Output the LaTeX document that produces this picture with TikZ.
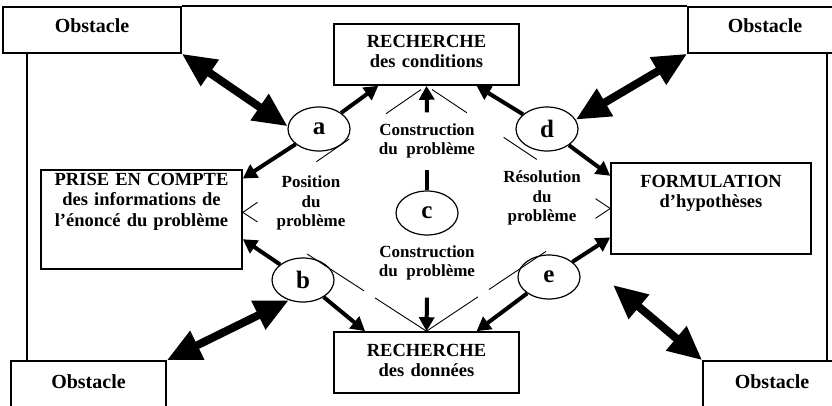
\documentclass[tikz,border=0pt]{standalone}
\usepackage{fontspec}
\setmainfont{Liberation Serif}
\usetikzlibrary{arrows.meta,shapes.geometric,calc}

\begin{document}
\begin{tikzpicture}[x=1pt, y=-1pt,
  main/.style = {draw, ellipse, line width=1.2pt, fill=white, minimum width=62pt, minimum height=44pt, inner sep=0pt, font=\bfseries\fontsize{25}{25}\selectfont},
  box/.style = {draw, line width=1.6pt, inner sep=0pt, align=center, font=\bfseries\fontsize{18.5}{20.5}\selectfont},
  obst/.style = {draw, line width=1.6pt, inner sep=0pt, font=\bfseries\fontsize{20}{22}\selectfont},
  lab/.style = {align=center, inner sep=0pt, font=\bfseries\fontsize{17}{19.5}\selectfont},
  arr/.style = {line width=4pt, -{Triangle[length=14pt,width=15pt]}},
  big/.style = {line width=8pt, {Triangle[length=34pt,width=30pt]}-{Triangle[length=34pt,width=30pt]}},
  thinline/.style = {line width=0.9pt}]
  \useasboundingbox (0,0) rectangle (832,405);

  % obstacles and frame
  \node[obst, minimum width=178pt, text height=25pt, text depth=21pt] (otl) at (92,30) {Obstacle};
  \node[obst, minimum width=154pt, text height=25pt, text depth=21pt] (otr) at (765,30) {Obstacle};
  \node[obst, minimum width=155pt, text height=27pt, text depth=23pt] (obl) at (88.5,386) {Obstacle};
  \node[obst, minimum width=138pt, text height=27pt, text depth=23pt] (obr) at (772,386) {Obstacle};
  \draw[line width=1.6pt] (otl.north east) -- (otr.north west);
  \draw[line width=1.6pt] (27,53) -- (27,361);
  \draw[line width=1.6pt] (827,53) -- (827,361);

  % boxes
  \node[box, text width=185pt, text height=23pt, text depth=38pt] (rc) at (426.5,54.5) {RECHERCHE\\des conditions};
  \node[box, text width=185pt, text height=24pt, text depth=37pt] (rd) at (426.5,362.5) {RECHERCHE\\des données};
  \node[box, text width=201pt, text height=15pt, text depth=84pt] (prise) at (141.5,219.5) {PRISE EN COMPTE\\des informations de\\l’énoncé du problème};
  \node[box, text width=200pt, text height=24pt, text depth=67pt] (form) at (711,208.5) {FORMULATION\\d’hypothèses};

  % phases
  \node[main] (a) at (319,129) {a};
  \node[main] (b) at (303,280) {b};
  \node[main] (c) at (427,213) {c};
  \node[main] (d) at (547,129) {d};
  \node[main] (e) at (549,277) {e};

  \node[lab] (cu) at (427,141) {Construction\\du\ \ problème};
  \node[lab] (cd) at (427,263) {Construction\\du\ \ problème};
  \node[lab] (pos) at (311,203) {Position\\du\\problème};
  \node[lab] (res) at (542,198) {Résolution\\du\\problème};

  % thin lines
  \coordinate (pl) at (prise.4);
  \foreach \s/\t in {0/.08, .4/.58, .78/.97} {
    \draw[thinline] ($(pl)!\s!(rc.south)$) -- ($(pl)!\t!(rc.south)$);
    \draw[thinline] ($(form.west)!\s!(rc.south)$) -- ($(form.west)!\t!(rc.south)$);
  }
  \foreach \s/\t in {0/.08, .35/.66, .72/1} {
    \draw[thinline] ($(pl)!\s!(rd.north)$) -- ($(pl)!\t!(rd.north)$);
    \draw[thinline] ($(form.west)!\s!(rd.north)$) -- ($(form.west)!\t!(rd.north)$);
  }

  % arrows
  \draw[arr] (a) -- (rc.213);
  \draw[arr] (a) -- (prise.22);
  \draw[arr] (d) -- (rc.-32);
  \draw[arr] (d) -- (form.162);
  \draw[arr] (b) -- (prise.-11);
  \draw[arr] (b) -- (rd.153);
  \draw[arr] (e) -- (form.196);
  \draw[arr] (e) -- (rd.32);
  \draw[arr] ([yshift=11pt]cu.north) -- (rc.south);
  \draw[arr] ([yshift=-17pt]cd.south) -- (rd.north);
  \draw[line width=4pt] (c.north) -- ++(0,-20);

  % obstacle arrows
  \coordinate (free) at (613,285);
  \draw[big] (otl.south east) -- (a.175);
  \draw[big] (otr.south west) -- (d.18);
  \draw[big] (obl.north east) -- (b.235);
  \draw[big] (obr.north west) -- (free);
\end{tikzpicture}
\end{document}
